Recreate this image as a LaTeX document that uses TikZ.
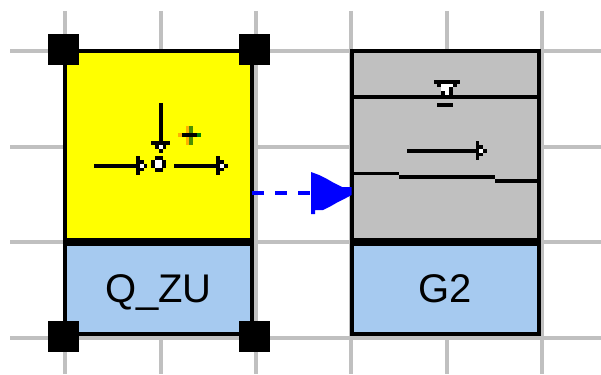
\documentclass[tikz,border=0pt]{standalone}
\usepackage{fontspec}
\setmainfont{Liberation Sans}
\selectcolormodel{rgb}
\definecolor{boxyellow}{rgb}{1,1,0}
\definecolor{gridc}{HTML}{C0C0C0}
\definecolor{labelblue}{HTML}{A6CAF0}
\definecolor{arrowblue}{HTML}{0000FF}
\definecolor{plusorange}{HTML}{FFB000}
\definecolor{plusgreen}{HTML}{4A9000}
\definecolor{plusdark}{HTML}{008000}
\tikzset{
  gridline/.style={draw=gridc,line width=4pt},
  box/.style={draw=black,line width=4pt,minimum width=187pt,inner sep=0pt,outer sep=0pt},
  iconbox/.style={box,minimum height=188.5pt},
  labelbox/.style={box,fill=labelblue,minimum height=90.5pt,font=\fontsize{40}{48}\selectfont,text height=35pt,text depth=8.5pt},
  handle/.style={fill=black,draw=none,minimum width=31pt,minimum height=31pt,inner sep=0pt,outer sep=0pt},
  ink/.style={fill=black},
  hole/.style={fill=white},
  wire/.style={draw=black,line width=4pt},
  link/.style={draw=arrowblue,line width=4pt,dash pattern=on 12pt off 11pt}
}
\begin{document}
\begin{tikzpicture}[x=1pt,y=-1pt]
\useasboundingbox (0,0) rectangle (601,374);
% grid
\foreach \yy in {51,147,242,338} \draw[gridline] (10,\yy) -- (601,\yy);
\foreach \xx in {65,161,256,351,447,542} \draw[gridline] (\xx,11) -- (\xx,374);
% boxes
\node[iconbox,fill=boxyellow] (qbox) at (158.5,145.25) {};
\node[labelbox] (qlabel) at (158.5,288.75) {Q\_ZU};
\node[iconbox,fill=gridc] (gbox) at (445,145.25) {};
\node[labelbox] (glabel) at (445,288.75) {G2};
% handles
\node[handle] (h1) at (63.5,49.5) {};
\node[handle] (h2) at (254.5,49.5) {};
\node[handle] (h3) at (63.5,336) {};
\node[handle] (h4) at (254.5,336) {};
% connector
\coordinate (level) at (300,193);
\draw[link] (qbox.east |- level) -- (311,193);
\fill[arrowblue] (311,172) -- (319,175) -- (327,179) -- (334,183) -- (342,187) -- (gbox.west |- 0,187) -- (gbox.west |- 0,195) -- (346,198) -- (338,202) -- (331,206) -- (323,210) -- (315,210) -- (315,214) -- (311,214) -- cycle;
% yellow symbol: feed
\draw[wire] (161,103) -- (161,141);
\fill[ink] (151,141) rectangle (170,145);
\fill[ink] (155,145) rectangle (166,149);
\fill[hole] (159,145) rectangle (163,149);
\fill[ink] (159,149) rectangle (163,153);
% yellow symbol: plus
\fill[plusorange] (186,126) rectangle (189,145);
\fill[plusgreen] (189,126) rectangle (193,145);
\fill[plusorange] (178,133) rectangle (182,137);
\fill[ink] (182,133) rectangle (197,137);
\fill[plusdark] (197,133) rectangle (201,137);
% yellow symbol: ring
\fill[ink] (155,156) rectangle (163,160);
\fill[ink] (155,168) rectangle (163,172);
\fill[ink] (151,160) rectangle (155,168);
\fill[ink] (162,160) rectangle (166,168);
\fill[hole] (155,160) rectangle (162,168);
% yellow symbol: left arrow
\draw[wire] (94,166) -- (136,166);
\fill[ink] (136,156) rectangle (140,175);
\fill[ink] (140,160) rectangle (144,171);
\fill[ink] (144,164) rectangle (147,168);
\fill[hole] (140,164) rectangle (144,168);
% yellow symbol: right arrow
\draw[wire] (174,166) -- (216,166);
\fill[ink] (216,156) rectangle (220,175);
\fill[ink] (220,160) rectangle (224,171);
\fill[ink] (224,164) rectangle (228,168);
\fill[hole] (220,164) rectangle (224,168);
% grey symbol: level mark
\fill[ink] (434,80) rectangle (460,84);
\fill[ink] (437,84) rectangle (457,87);
\fill[ink] (441,87) rectangle (453,91);
\fill[ink] (441,91) rectangle (453,95);
\fill[hole] (441,84) rectangle (453,87);
\fill[hole] (441,87) rectangle (449,91);
\fill[hole] (445,91) rectangle (449,95);
\fill[ink] (353,95) rectangle (537,99);
\fill[ink] (437,103) rectangle (453,107);
% grey symbol: arrow
\draw[wire] (407,151) -- (476,151);
\fill[ink] (476,141) rectangle (479,160);
\fill[ink] (479,145) rectangle (483,156);
\fill[ink] (483,149) rectangle (487,153);
\fill[hole] (479,149) rectangle (483,153);
% grey symbol: stepped bed
\fill[ink] (353,172) rectangle (399,175);
\fill[ink] (399,175) rectangle (495,179);
\fill[ink] (495,179) rectangle (537,183);
\end{tikzpicture}
\end{document}
